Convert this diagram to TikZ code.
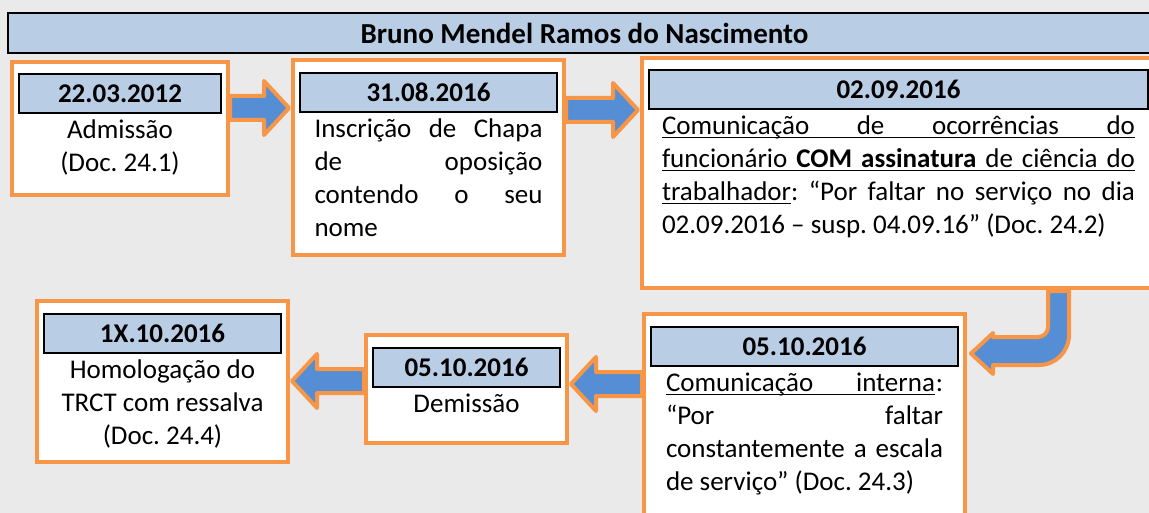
\documentclass[tikz,border=0pt]{standalone}
\usepackage{fontspec}
\setmainfont{Carlito}
\usetikzlibrary{calc,positioning}
\frenchspacing

\definecolor{bggray}{HTML}{EAEAEA}
\definecolor{boxorange}{HTML}{F79646}
\definecolor{barblue}{HTML}{B9CDE5}
\definecolor{arrowblue}{HTML}{558ED5}

\newsavebox{\ulbox}
\newcommand{\uln}[1]{\sbox{\ulbox}{#1}\rlap{\rule[-3.5pt]{\wd\ulbox}{1.6pt}}\usebox{\ulbox}}
\newcommand{\fullline}[1]{\makebox[\linewidth][s]{#1}}
% block arrow between two boxes at height #3
\newcommand{\barrow}[3]{%
	\coordinate (lvl) at (0,#3);
	\coordinate (s) at (#1 |- lvl);
	\coordinate (t0) at (#2 |- lvl);
	\coordinate (t) at ($(t0)!2pt!(s)$);
	\coordinate (h) at ($(t)!25pt!(s)$);
	\draw[blockarrow] ($(s)+(0,-12)$) -- ($(h)+(0,-12)$) -- ($(h)+(0,-27)$) -- (t)
	-- ($(h)+(0,27)$) -- ($(h)+(0,12)$) -- ($(s)+(0,12)$) -- cycle;}

\begin{document}
\begin{tikzpicture}[x=1pt,y=-1pt,
	evbox/.style={draw=boxorange,line width=4pt,fill=white,anchor=north west,inner sep=0pt},
	datebar/.style={draw=black,line width=1.6pt,fill=barblue,minimum height=39pt,inner sep=0pt,
		font=\fontsize{27}{33}\selectfont\bfseries},
	evtext/.style={inner sep=0pt,font=\fontsize{27}{33}\selectfont},
	blockarrow/.style={draw=boxorange,line width=4pt,line join=round,fill=arrowblue}]
	\useasboundingbox (0,0) rectangle (1149,513);
	\fill[bggray] (0,0) rectangle (1149,513);
	\clip (0,0) rectangle (1149,513);
	
	% title bar
	\node[draw=black,line width=2pt,fill=barblue,anchor=north west,minimum width=1153pt,
	minimum height=40pt,inner sep=0pt,font=\fontsize{29}{35}\selectfont\bfseries]
	(title) at (7,12) {Bruno Mendel Ramos do Nascimento};
	
	% top row
	\node[evbox,minimum width=216pt,minimum height=133pt] (b1) at (10,60) {};
	\node[datebar,minimum width=202pt,below=13pt of b1.north] (d1) {22.03.2012};
	\node[evtext,below=2pt of d1] (t1) {\parbox[t]{200pt}{\centering\strut Admissão\\(Doc. 24.1)}};
	
	\node[evbox,minimum width=271pt,minimum height=195pt] (b2) at (291,58) {};
	\node[datebar,minimum width=257pt,below=14pt of b2.north] (d2) {31.08.2016};
	\node[evtext,below=2pt of d2] (t2) {\parbox[t]{228pt}{\strut\fullline{Inscrição de Chapa}\\
			de\hfill oposição\\ \fullline{contendo o seu}\\ nome}};
	
	\node[evbox,minimum width=513pt,minimum height=230pt] (b3) at (640,56) {};
	\node[datebar,minimum width=499pt,below=13pt of b3.north] (d3) {02.09.2016};
	\node[evtext,below=2pt of d3] (t3) {\parbox[t]{473pt}{\strut
			\uln{\fullline{Comunicação de ocorrências do}}\\
			\uln{\fullline{funcionário \textbf{COM assinatura} de ciência do}}\\
			\fullline{\uln{trabalhador}: “Por faltar no serviço no dia}\\
			02.09.2016 – susp. 04.09.16” (Doc. 24.2)}};
	
	% bottom row
	\node[evbox,minimum width=321pt,minimum height=240pt] (b4) at (642,312) {};
	\node[datebar,minimum width=307pt,below=14pt of b4.north] (d4) {05.10.2016};
	\node[evtext,below=2pt of d4] (t4) {\parbox[t]{277pt}{\strut
			\uln{\makebox[269pt][s]{Comunicação interna}}\hfill:\\
			“Por\hfill faltar\\ \fullline{constantemente a escala}\\
			de serviço” (Doc. 24.3)}};
	
	\node[evbox,minimum width=201pt,minimum height=108pt] (b5) at (364,333) {};
	\node[datebar,minimum width=187pt,below=14pt of b5.north] (d5) {05.10.2016};
	\node[evtext,below=2pt of d5] (t5) {\parbox[t]{185pt}{\centering\strut Demissão}};
	
	\node[evbox,minimum width=251pt,minimum height=161pt] (b6) at (35,299) {};
	\node[datebar,minimum width=237pt,below=14pt of b6.north] (d6) {1X.10.2016};
	\node[evtext,below=2pt of d6] (t6) {\parbox[t]{235pt}{\centering\strut Homologação do\\
			TRCT com ressalva\\(Doc. 24.4)}};
	
	% arrows
	\barrow{b1.east}{b2.west}{108}
	\barrow{b2.east}{b3.west}{110}
	\barrow{b4.west}{b5.east}{384}
	\barrow{b5.west}{b6.east}{381}
	
	% u-turn from b3 down into b4
	\coordinate (lvl) at (0,353.5);
	\coordinate (ut) at ($(b4.east |- lvl)+(4,0)$);
	\begin{scope}[shift={(ut)}]
		\draw[blockarrow] (77,-62.5) -- (77,-26.5) .. controls (77,-21) and (72.5,-16.5) .. (67,-16.5)
		-- (22,-16.5) -- (22,-20.5) -- (0,0) -- (22,20.5) -- (22,11.5) -- (68,11.5)
		.. controls (84.6,11.5) and (98,-1.9) .. (98,-18.5) -- (98,-62.5) -- cycle;
	\end{scope}
\end{tikzpicture}
\end{document}
